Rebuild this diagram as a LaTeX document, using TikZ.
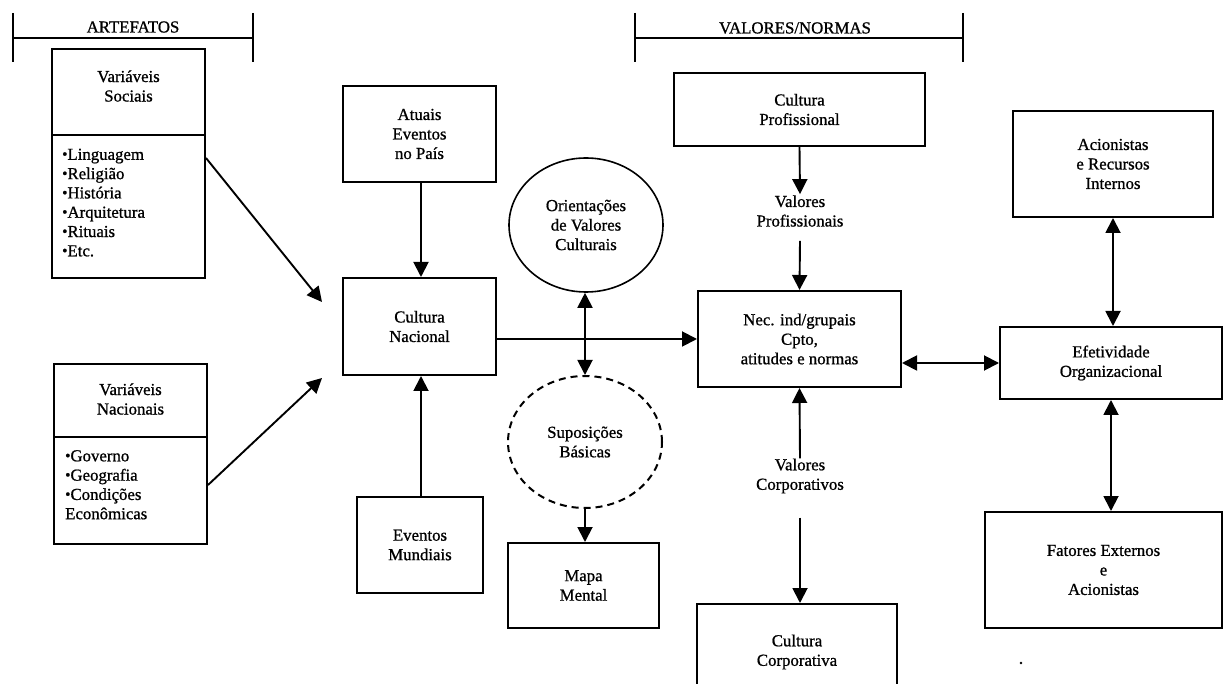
\documentclass[tikz,border=0pt]{standalone}
\usepackage{fontspec}
\setmainfont{Liberation Serif}
\newfontfamily\inkfont{Liberation Serif}[FakeBold=0.9]
\usepackage{graphicx}
\usetikzlibrary{arrows.meta,shapes.geometric,calc}

\newcommand{\blt}{\raisebox{0.1ex}{\scalebox{0.9}{\textbullet}}}

\begin{document}
\begin{tikzpicture}[x=1pt,y=-1pt,
  txt/.style={font=\inkfont\fontsize{16.8}{19.5}\selectfont, align=center, inner sep=0pt},
  lst/.style={font=\inkfont\fontsize{16.8}{19.3}\selectfont, align=left, inner sep=0pt, anchor=north west},
  box/.style={draw, line width=2pt, rectangle, inner sep=0pt, txt},
  oval/.style={draw, line width=1.6pt, ellipse, inner sep=0pt, txt},
  ln/.style={line width=2pt},
  hdr/.style={line width=1.5pt},
  arr/.style={line width=1.9pt, -{Triangle[length=15pt,width=15pt]}},
  darr/.style={line width=1.9pt, {Triangle[length=15pt,width=15pt]}-{Triangle[length=15pt,width=15pt]}}
]
\useasboundingbox (0,0) rectangle (1224,684);
\clip (0,0) rectangle (1224,684);
\fill[white] (0,0) rectangle (1224,684);

% section brackets
\coordinate (a1) at (13,38);  \coordinate (a2) at (253,38);
\coordinate (v1) at (635,38); \coordinate (v2) at (963,38);
\draw[hdr] (a1) -- (a2);
\draw[hdr] ($(a1)+(0,-25)$) -- ($(a1)+(0,24)$);
\draw[hdr] ($(a2)+(0,-25)$) -- ($(a2)+(0,24)$);
\draw[hdr] (v1) -- (v2);
\draw[hdr] ($(v1)+(0,-25)$) -- ($(v1)+(0,24)$);
\draw[hdr] ($(v2)+(0,-25)$) -- ($(v2)+(0,24)$);
\node[txt] (art) at (133,27) {ARTEFATOS};
\node[txt] (vn) at (795,28) {VALORES/NORMAS};

% social variables
\node[box, minimum width=153pt, minimum height=229pt] (soc) at (128.5,163.5) {};
\draw[ln] (soc.west |- 0,135) -- (soc.east |- 0,135);
\node[txt] (soct) at (128.5,86) {Variáveis\\Sociais};
\node[lst] (socl) at (62,148.5) {\blt Linguagem\\\blt Religião\\\blt História\\\blt Arquitetura\\\blt Rituais\\\blt Etc.};

% national variables
\node[box, minimum width=153pt, minimum height=180pt] (nac) at (130.5,454) {};
\draw[ln] (nac.west |- 0,437) -- (nac.east |- 0,437);
\node[txt] (nact) at (130.5,399) {Variáveis\\Nacionais};
\node[lst] (nacl) at (65,450) {\blt Governo\\\blt Geografia\\\blt Condições\\Econômicas};

% national culture column
\node[box, minimum width=153pt, minimum height=96pt] (atu) at (419.5,134) {Atuais\\Eventos\\no País};
\node[box, minimum width=153pt, minimum height=97pt] (cn) at (419.5,326.5) {Cultura\\Nacional};
\node[box, minimum width=126pt, minimum height=96pt] (em) at (420,545) {Eventos\\Mundiais};

% cultural orientations
\node[oval, minimum width=154pt, minimum height=134pt] (ori) at (586,225) {Orientações\\de Valores\\Culturais};
\node[oval, line width=2pt, dashed, dash pattern=on 7pt off 5pt, minimum width=154pt, minimum height=132pt] (sup) at (585,442) {Suposições\\Básicas};
\node[box, minimum width=151pt, minimum height=85pt] (mm) at (583.5,585.5) {Mapa\\Mental};

% values and norms column
\node[box, minimum width=251pt, minimum height=73pt] (cp) at (799.5,109.5) {Cultura\\Profissional};
\node[txt] (vp) at (800,211) {Valores\\Profissionais};
\node[box, minimum width=203pt, minimum height=96pt] (nec) at (799.5,339) {Nec. ind/grupais\\Cpto,\\atitudes e normas};
\node[txt] (vc) at (800,476) {Valores\\Corporativos};
\node[box, minimum width=200pt, minimum height=96pt] (cc) at (797,652) {Cultura\\Corporativa};

% organisational effectiveness column
\node[box, minimum width=200pt, minimum height=106pt] (aci) at (1113,164) {Acionistas\\e Recursos\\Internos};
\node[box, minimum width=222pt, minimum height=72pt] (ef) at (1111,363) {Efetividade\\Organizacional};
\node[box, minimum width=237pt, minimum height=116pt] (fat) at (1103.5,570) {Fatores Externos\\e\\Acionistas};

% connectors
\coordinate (t1) at (322,302);
\coordinate (t2) at (322,378);
\draw[arr] (soc.east |- 0,158) -- (t1);
\draw[arr] (nac.east |- 0,485) -- (t2);
\draw[arr] (atu.south -| 421,0) -- (cn.north -| 421,0);
\draw[arr] (em.north -| 421,0) -- (cn.south -| 421,0);
\draw[arr] (cn.east |- nec.west) -- (nec.west);
\draw[darr] (ori.south -| sup.north) -- (sup.north);
\draw[arr] (sup.south) -- (sup.south |- mm.north);
\draw[arr] (cp.south) -- ([yshift=1pt]vp.north);
\draw[arr] ([yshift=-14pt]vp.south) -- (nec.north);
\draw[arr] (vc.north) -- (nec.south);
\draw[arr] ([yshift=-24pt]vc.south) -- (vc.south |- cc.north);
\draw[darr] (nec.east |- ef.west) -- (ef.west);
\draw[darr] (aci.south) -- (aci.south |- ef.north);
\draw[darr] (ef.south) -- (ef.south |- fat.north);

% stray mark
\fill (1021,663) circle (1.3pt);
\end{tikzpicture}
\end{document}
